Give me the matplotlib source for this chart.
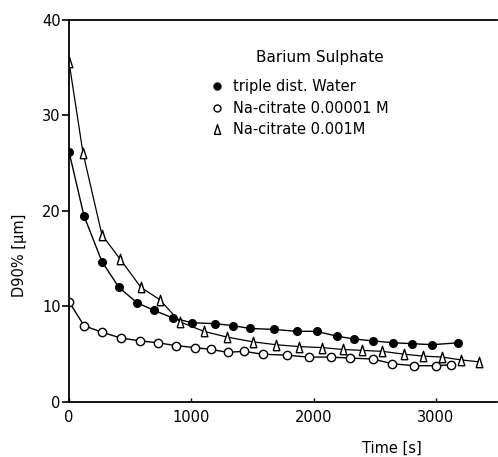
import numpy as np
import matplotlib
matplotlib.use("Agg")
import matplotlib.pyplot as plt
from matplotlib.lines import Line2D

# Barium sulphate, D90% over time
water_t = [0, 122, 269, 408, 555, 694, 849, 1004, 1192, 1339, 1478, 1673,
           1861, 2024, 2188, 2327, 2482, 2653, 2808, 2971, 3184]
water_d = [26.2, 19.5, 14.7, 12.0, 10.4, 9.6, 8.8, 8.3, 8.2, 8.0, 7.7, 7.6,
           7.4, 7.4, 6.9, 6.6, 6.4, 6.2, 6.1, 6.0, 6.2]

cit5_t = [0, 122, 269, 424, 580, 727, 873, 1029, 1159, 1298, 1429, 1584,
          1780, 1959, 2139, 2294, 2482, 2645, 2824, 3004, 3127]
cit5_d = [10.5, 8.0, 7.3, 6.7, 6.4, 6.2, 5.9, 5.7, 5.5, 5.2, 5.3, 5.0,
          4.9, 4.7, 4.7, 4.6, 4.5, 4.0, 3.8, 3.8, 3.9]

cit3_t = [0, 114, 269, 416, 588, 743, 906, 1102, 1290, 1502, 1690, 1878,
          2065, 2237, 2400, 2563, 2743, 2898, 3053, 3208, 3355]
cit3_d = [35.6, 26.1, 17.5, 15.0, 12.0, 10.7, 8.4, 7.4, 6.8, 6.3, 6.0, 5.8,
          5.7, 5.5, 5.4, 5.3, 5.0, 4.8, 4.7, 4.4, 4.2]

labels = ["triple dist. Water", "Na-citrate 0.00001 M", "Na-citrate 0.001M"]

# narrow triangle like the original drafting symbol
tri = [(-0.32, -0.5), (0.32, -0.5), (0.0, 0.5), (-0.32, -0.5)]

fig = plt.figure(figsize=(4.98, 4.57), dpi=100)
ax = fig.add_axes([0.1386, 0.1204, 0.8594, 0.8359])

ax.plot(water_t, water_d, color="black", lw=1.0, marker="o", ms=5.5,
        mfc="black", mec="black")
ax.plot(cit5_t, cit5_d, color="black", lw=1.0, marker="o", ms=6,
        mfc="white", mec="black", mew=1.0)
ax.plot(cit3_t, cit3_d, color="black", lw=0.9, marker=tri, ms=7.5,
        mfc="white", mec="black", mew=1.0)

ax.set_xlim(0, 3500)
ax.set_ylim(0, 40)
ax.set_xticks([0, 1000, 2000, 3000])
ax.set_yticks([0, 10, 20, 30, 40])
ax.spines["right"].set_visible(False)
for s in ["left", "top", "bottom"]:
    ax.spines[s].set_linewidth(1.3)
ax.tick_params(axis="y", direction="out", length=5, width=1.2, labelsize=10.5, pad=1)
ax.tick_params(axis="x", direction="in", length=3, width=1.0, labelsize=10.5, pad=6)

fig.text(392 / 498, 1 - 448 / 457, "Time [s]", fontsize=10.5,
         ha="center", va="center")
ax.set_ylabel("D90% [µm]", fontsize=10.5)
ax.yaxis.set_label_coords(-0.098, 0.385)

# legend: title as text, entries as a borderless legend
ax.text(0.586, 0.903, "Barium Sulphate", transform=ax.transAxes,
        fontsize=11, ha="center", va="center")
handles = [
    Line2D([0], [0], ls="none", marker="o", ms=5, mfc="black", mec="black"),
    Line2D([0], [0], ls="none", marker="o", ms=5, mfc="white", mec="black"),
    Line2D([0], [0], ls="none", marker=tri, ms=7, mfc="white", mec="black"),
]
ax.legend(handles, labels, frameon=False, loc="upper left",
          bbox_to_anchor=(0.333, 0.845), borderaxespad=0, borderpad=0,
          fontsize=10.5, handlelength=0.8, handletextpad=0.65,
          labelspacing=0.45)

fig.savefig("out.png", dpi=100)
